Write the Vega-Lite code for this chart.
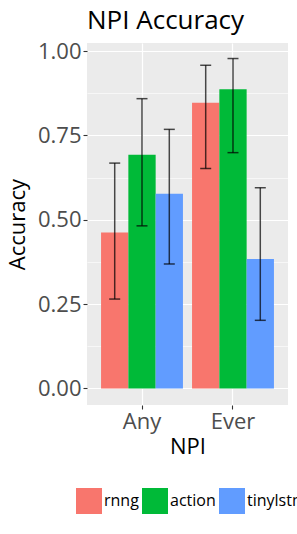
{
  "$schema": "https://vega.github.io/schema/vega-lite/v6.json",
  "width": 201,
  "height": 362,
  "autosize": {"type": "none"},
  "padding": {"left": 87, "top": 43, "right": 9, "bottom": 129},
  "background": "white",
  "config": {
    "font": "Open Sans",
    "view": {"fill": "#EBEBEB", "stroke": null}
  },
  "title": {
    "text": "NPI Accuracy",
    "anchor": "start",
    "frame": "group",
    "fontSize": 26,
    "fontWeight": "normal",
    "color": "#000000",
    "offset": 6
  },
  "data": {
    "values": [
      {"npi": "Any", "model": "rnng", "acc": 0.462, "lo": 0.265, "hi": 0.668},
      {"npi": "Any", "model": "action", "acc": 0.693, "lo": 0.482, "hi": 0.859},
      {"npi": "Any", "model": "tinylstm", "acc": 0.577, "lo": 0.369, "hi": 0.768},
      {"npi": "Ever", "model": "rnng", "acc": 0.847, "lo": 0.652, "hi": 0.958},
      {"npi": "Ever", "model": "action", "acc": 0.887, "lo": 0.699, "hi": 0.978},
      {"npi": "Ever", "model": "tinylstm", "acc": 0.384, "lo": 0.202, "hi": 0.595}
    ]
  },
  "encoding": {
    "x": {
      "field": "npi",
      "type": "nominal",
      "scale": {"paddingInner": 0.1, "paddingOuter": 0.1545},
      "axis": {
        "title": "NPI",
        "labelAngle": 0,
        "labelFontSize": 22,
        "labelColor": "#4D4D4D",
        "labelPadding": 2,
        "titleFontSize": 22,
        "titleFontWeight": "normal",
        "titleColor": "#000000",
        "titlePadding": 4,
        "grid": true,
        "gridColor": "#FFFFFF",
        "gridWidth": 1.2,
        "bandPosition": 0.5,
        "domain": false,
        "tickColor": "#333333",
        "tickSize": 4,
        "tickWidth": 1.1
      }
    },
    "xOffset": {
      "field": "model",
      "type": "nominal",
      "sort": ["rnng", "action", "tinylstm"],
      "scale": {"paddingInner": 0, "paddingOuter": 0}
    }
  },
  "layer": [
    {
      "mark": {"type": "bar"},
      "encoding": {
        "y": {
          "field": "acc",
          "type": "quantitative",
          "scale": {"domain": [-0.049, 1.024], "nice": false, "zero": false},
          "axis": {
            "title": "Accuracy",
            "values": [0, 0.125, 0.25, 0.375, 0.5, 0.625, 0.75, 0.875, 1],
            "labelExpr": "datum.value % 0.25 == 0 ? format(datum.value, '.2f') : ''",
            "labelFontSize": 22,
            "labelColor": "#4D4D4D",
            "labelPadding": 2,
            "titleFontSize": 22,
            "titleFontWeight": "normal",
            "titleColor": "#000000",
            "titlePadding": 8,
            "domain": false,
            "grid": true,
            "gridColor": "#FFFFFF",
            "gridWidth": {"condition": {"test": "datum.value % 0.25 != 0", "value": 0.6}, "value": 1.2},
            "tickColor": "#333333",
            "tickOpacity": {"condition": {"test": "datum.value % 0.25 != 0", "value": 0}, "value": 1},
            "tickSize": 4,
            "tickWidth": 1.1
          }
        },
        "y2": {"datum": 0},
        "color": {
          "field": "model",
          "type": "nominal",
          "scale": {"domain": ["rnng", "action", "tinylstm"], "range": ["#F8766D", "#00BA38", "#619CFF"]},
          "legend": {
            "title": null,
            "orient": "none",
            "legendX": -11,
            "legendY": 445,
            "direction": "horizontal",
            "symbolType": "square",
            "symbolSize": 676,
            "symbolStrokeWidth": 0,
            "labelFontSize": 16,
            "labelColor": "#000000",
            "labelOffset": 2,
            "columnPadding": 3,
            "padding": 0
          }
        }
      }
    },
    {
      "mark": {"type": "rule", "color": "#000000", "opacity": 0.7, "strokeWidth": 1.5},
      "encoding": {
        "y": {"field": "lo", "type": "quantitative"},
        "y2": {"field": "hi"}
      }
    },
    {
      "mark": {"type": "tick", "color": "#000000", "opacity": 0.7, "size": 11, "thickness": 1.5},
      "encoding": {
        "y": {"field": "lo", "type": "quantitative"}
      }
    },
    {
      "mark": {"type": "tick", "color": "#000000", "opacity": 0.7, "size": 11, "thickness": 1.5},
      "encoding": {
        "y": {"field": "hi", "type": "quantitative"}
      }
    }
  ]
}
